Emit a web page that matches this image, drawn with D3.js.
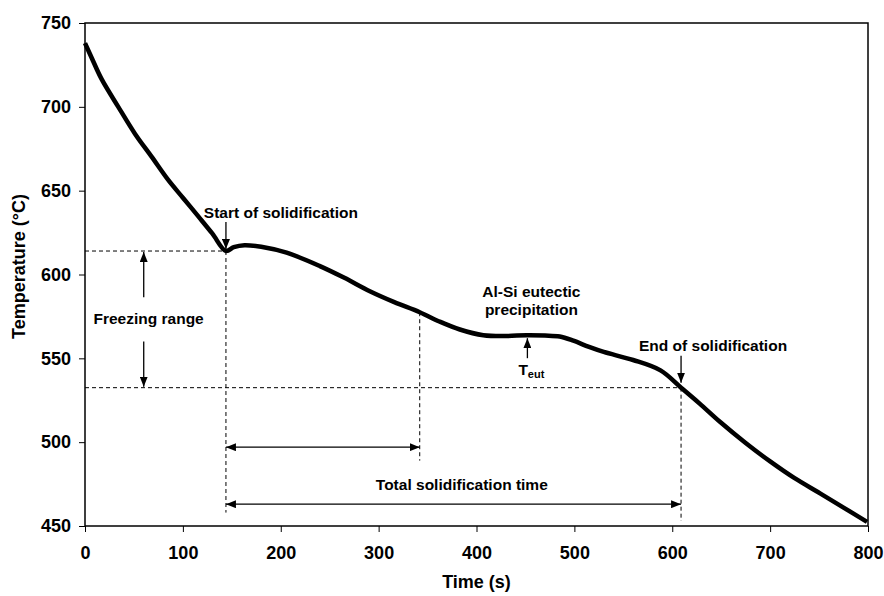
<!DOCTYPE html>
<html>
<head>
<meta charset="utf-8">
<script src="https://cdn.jsdelivr.net/npm/d3@7"></script>
<style>
body { margin: 0; background: #fff; }
text { font-family: "Liberation Sans", Arial, sans-serif; font-weight: bold; fill: #000; }
</style>
</head>
<body>
<script>
//cooling curve data
var times = [0, 7, 17, 34, 51, 68, 85, 100, 116, 130, 144, 152, 163, 180, 206, 240, 265, 291, 316, 342, 362, 383, 407, 430, 451, 470, 485, 499, 515, 530, 560, 588, 609, 628, 649, 675, 700, 725, 751, 775, 799];
var temps = [738, 729, 716.5, 700, 684, 670.3, 656.4, 645.8, 634.5, 624.5, 614, 616.3, 617.5, 616.5, 613, 605, 598, 590, 583.5, 577.5, 572, 567.2, 563.8, 563.3, 563.8, 563.6, 563, 560.5, 556.8, 553.8, 549, 542.8, 532.5, 523, 512, 499.5, 488.5, 478.5, 469.5, 461, 452.5];

//axis ticks
var xTicks = [0, 100, 200, 300, 400, 500, 600, 700, 800];
var yTicks = [450, 500, 550, 600, 650, 700, 750];

//key points of the curve
var tStart = 144, TStart = 614;   //start of solidification
var tMid = 342, TMid = 577.5;     //end of dendrite growth
var tEnd = 609, TEnd = 532.5;     //end of solidification
var tEut = 452, TEut = 563.8;     //eutectic temperature

//set width and height
var width = 884,
	height = 596;
var margin = {top: 23, right: 16, bottom: 70, left: 85};
var w = width - margin.left - margin.right,
	h = height - margin.top - margin.bottom;

var svg = d3.select("body").append("svg")
	.attr("width", width)
	.attr("height", height);

//arrow head
svg.append("defs").append("marker")
	.attr("id", "head")
	.attr("viewBox", "0 0 10 8")
	.attr("refX", 10).attr("refY", 4)
	.attr("markerUnits", "userSpaceOnUse")
	.attr("markerWidth", 10).attr("markerHeight", 8)
	.attr("orient", "auto-start-reverse")
	.append("path").attr("d", "M0,0L10,4L0,8Z").attr("fill", "#000");

var g = svg.append("g")
	.attr("transform", "translate(" + margin.left + "," + margin.top + ")");

var x = d3.scaleLinear().domain([0, 800]).range([0, w]);
var y = d3.scaleLinear().domain([450, 750]).range([h, 0]);

//axes
var xAxis = g.append("g")
	.attr("transform", "translate(0," + h + ")")
	.call(d3.axisBottom(x).tickValues(xTicks).tickSize(6).tickPadding(14));
var yAxis = g.append("g")
	.call(d3.axisLeft(y).tickValues(yTicks).tickSize(6).tickPadding(8));
[xAxis, yAxis].forEach(function(a){
	a.select(".domain").remove();
	a.selectAll("line").attr("stroke", "#000").attr("stroke-width", 1);
	a.selectAll("text").style("font-size", "18px").attr("font-family", null);
});

//box round the plot
g.append("rect")
	.attr("width", w).attr("height", h)
	.attr("fill", "none").attr("stroke", "#000").attr("stroke-width", 1.5);

//axis titles
g.append("text")
	.attr("x", w / 2).attr("y", h + 62)
	.attr("text-anchor", "middle")
	.style("font-size", "18px")
	.text("Time (s)");
g.append("text")
	.attr("transform", "translate(" + (-60) + "," + (h / 2 - 8) + ") rotate(-90)")
	.attr("text-anchor", "middle")
	.style("font-size", "18px")
	.text("Temperature (°C)");

//dashed guide lines
var dash = g.append("g")
	.attr("stroke", "#000").attr("stroke-width", 1).attr("stroke-dasharray", "4,3").attr("fill", "none");
dash.append("line").attr("x1", 0).attr("x2", x(tStart)).attr("y1", y(TStart)).attr("y2", y(TStart));
dash.append("line").attr("x1", 0).attr("x2", x(tEnd)).attr("y1", y(TEnd)).attr("y2", y(TEnd));
dash.append("line").attr("x1", x(tStart)).attr("x2", x(tStart)).attr("y1", y(TStart)).attr("y2", y(458));
dash.append("line").attr("x1", x(tMid)).attr("x2", x(tMid)).attr("y1", y(TMid)).attr("y2", y(489));
dash.append("line").attr("x1", x(tEnd)).attr("x2", x(tEnd)).attr("y1", y(TEnd)).attr("y2", y(453));

//cooling curve
var line = d3.line()
	.x(function(d){ return x(d[0]); })
	.y(function(d){ return y(d[1]); })
	.curve(d3.curveCatmullRom.alpha(0.5));
g.append("path")
	.datum(d3.zip(times, temps))
	.attr("d", line)
	.attr("fill", "none")
	.attr("stroke", "#000")
	.attr("stroke-width", 4.5)
	.attr("stroke-linejoin", "round");

//arrows
function arrow(x1, y1, x2, y2, both){
	var a = g.append("line")
		.attr("x1", x1).attr("y1", y1).attr("x2", x2).attr("y2", y2)
		.attr("stroke", "#000").attr("stroke-width", 1.3)
		.attr("marker-end", "url(#head)");
	if (both) a.attr("marker-start", "url(#head)");
}
arrow(x(60), y(586.5), x(60), y(TStart) + 1);
arrow(x(60), y(560), x(60), y(TEnd) - 1);
arrow(x(tStart), y(497), x(tMid), y(497), true);
arrow(x(tStart), y(463), x(tEnd), y(463), true);
arrow(x(tStart), y(TStart) - 29, x(tStart), y(TStart) - 2);
arrow(x(tEnd), y(TEnd) - 32, x(tEnd), y(TEnd) - 5);
arrow(x(tEut), y(TEut) + 23, x(tEut), y(TEut) + 3);

//labels
function label(t, px, py, size){
	return g.append("text")
		.attr("x", px).attr("y", py)
		.attr("text-anchor", "middle")
		.style("font-size", size + "px")
		.text(t);
}
label("Freezing range", x(65), y(TStart) + 73, 15.5);
label("Start of solidification", x(tStart) + 55, y(TStart) - 33, 15.5);
label("End of solidification", x(tEnd) + 32, y(TEnd) - 37, 15.5);
label("Al-Si eutectic", x(tEut) + 4, y(TEut) - 38, 15.5);
label("precipitation", x(tEut) + 4, y(TEut) - 20, 15.5);
label("Total solidification time", x(385), y(463) - 14, 15.5);

var teut = g.append("text")
	.attr("x", x(tEut) - 9).attr("y", y(TEut) + 40)
	.style("font-size", "15.5px")
	.text("T");
teut.append("tspan").attr("dy", 3).style("font-size", "11px").text("eut");
</script>
</body>
</html>
